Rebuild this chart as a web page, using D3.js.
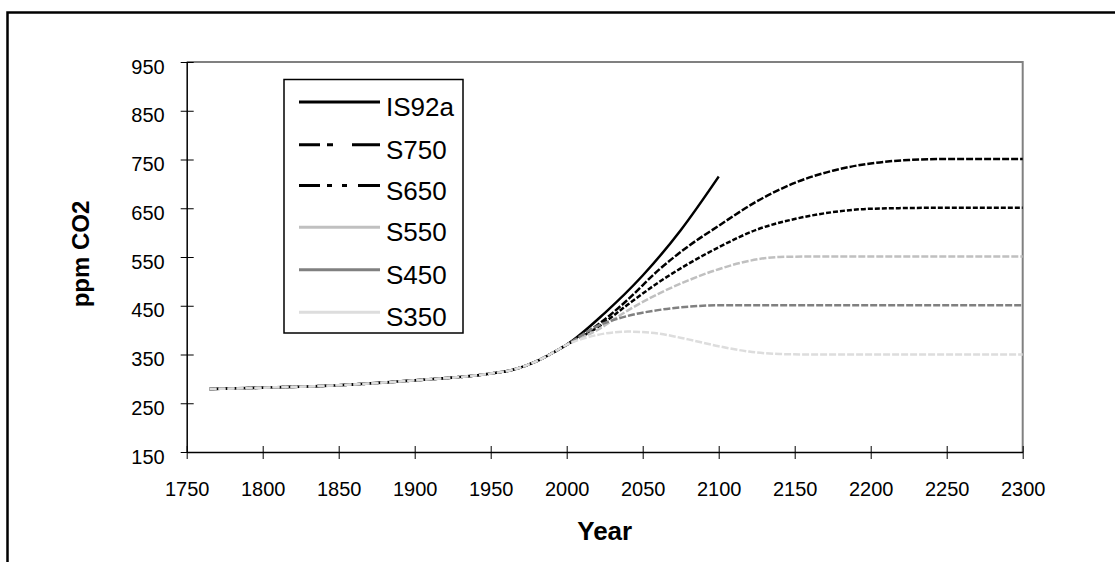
<!DOCTYPE html>
<html>
<head>
<meta charset="utf-8">
<script src="https://cdn.jsdelivr.net/npm/d3@7"></script>
<style>
  html, body { margin: 0; padding: 0; background: #fff; }
  svg { display: block; font-family: Arial, "Liberation Sans", sans-serif; }
</style>
</head>
<body>
<svg id="chart" width="1115" height="562"></svg>
<script>
// ---- data ----
const historyYears  = [1765, 1800, 1850, 1900, 1950, 1965, 1980, 1990, 2000];
const historyValues = [279, 282, 287, 297, 311, 319, 336, 352, 370];

const is92aYears  = [2000, 2025, 2050, 2075, 2100];
const is92aValues = [370, 435, 512, 605, 715];

const s750Years  = [2000, 2020, 2040, 2060, 2080, 2100, 2125, 2150, 2175, 2200, 2225, 2250, 2300];
const s750Values = [370, 410, 462, 522, 572, 614, 664, 702, 727, 742, 749, 751, 751];

const s650Years  = [2000, 2020, 2040, 2060, 2080, 2100, 2125, 2150, 2175, 2200, 2250, 2300];
const s650Values = [370, 405, 452, 497, 536, 570, 606, 628, 642, 649, 651, 651];

const s550Years  = [2000, 2020, 2040, 2060, 2080, 2100, 2120, 2140, 2160, 2300];
const s550Values = [370, 400, 440, 474, 502, 525, 542, 550, 551, 551];

const s450Years  = [2000, 2020, 2040, 2060, 2080, 2100, 2120, 2300];
const s450Values = [370, 408, 429, 441, 448, 451, 451, 451];

const s350Years  = [2000, 2020, 2040, 2060, 2080, 2100, 2120, 2140, 2160, 2300];
const s350Values = [370, 390, 397, 393, 381, 367, 356, 351, 350, 350];

const seriesNames  = ["IS92a", "S750", "S650", "S550", "S450", "S350"];
const seriesColors = ["#000000", "#000000", "#000000", "#c0c0c0", "#808080", "#dddddd"];
const plotDash     = [null, "7,2", "5,2", "7,2", "7,2", "7,2"];
const legendDash   = [null, "21,7,6,19,30", "21,7,5,10,5,11,30", null, null, null];

const xTicks = [1750, 1800, 1850, 1900, 1950, 2000, 2050, 2100, 2150, 2200, 2250, 2300];
const yTicks = [150, 250, 350, 450, 550, 650, 750, 850, 950];

// ---- build series ----
const hist = historyYears.map((yr, i) => ({year: yr, value: historyValues[i]}));
function series(years, values) {
  return hist.slice(0, -1).concat(years.map((yr, i) => ({year: yr, value: values[i]})));
}
const allSeries = [
  series(is92aYears, is92aValues),
  series(s750Years, s750Values),
  series(s650Years, s650Values),
  series(s550Years, s550Values),
  series(s450Years, s450Values),
  series(s350Years, s350Values)
];

// ---- layout ----
const svg = d3.select("#chart");
const pL = 186.7, pR = 1022.7, pT = 62, pB = 452;

const x = d3.scaleLinear().domain([1750, 2300]).range([pL, pR]);
const y = d3.scaleLinear().domain([150, 950]).range([pB, pT]);

// outer frame
svg.append("rect")
  .attr("x", 7.5).attr("y", 12.5).attr("width", 1130).attr("height", 570)
  .attr("fill", "none").attr("stroke", "#000").attr("stroke-width", 2.5);

// plot frame (top/right gray)
svg.append("path")
  .attr("d", `M${pL},${pT}H${pR}V${pB}`)
  .attr("fill", "none").attr("stroke", "#808080").attr("stroke-width", 2);

// lines (first series underneath, last on top)
const line = d3.line().x(d => x(d.year)).y(d => y(d.value)).curve(d3.curveMonotoneX);
allSeries.forEach((s, i) => {
  svg.append("path")
    .datum(s)
    .attr("d", line)
    .attr("fill", "none")
    .attr("stroke", seriesColors[i])
    .attr("stroke-width", 2.5)
    .attr("stroke-dasharray", plotDash[i]);
});

// axes
const xAxis = d3.axisBottom(x).tickValues(xTicks).tickFormat(d3.format("d"))
  .tickSizeInner(7).tickSizeOuter(0).tickPadding(4);
const gx = svg.append("g").attr("transform", `translate(0,${pB})`).call(xAxis);
gx.select(".domain").attr("stroke", "#000").attr("stroke-width", 1.5);
gx.selectAll(".tick line").attr("y1", -6).attr("y2", 7).attr("stroke", "#000").attr("stroke-width", 1);
gx.selectAll(".tick text").attr("y", 44).attr("dy", null)
  .style("font-size", "20px").style("font-family", "Arial, 'Liberation Sans', sans-serif").attr("fill", "#000");

const yAxis = d3.axisLeft(y).tickValues(yTicks).tickFormat(d3.format("d"))
  .tickSizeInner(7).tickSizeOuter(0);
const gy = svg.append("g").attr("transform", `translate(${pL},0)`).call(yAxis);
gy.select(".domain").attr("stroke", "#000").attr("stroke-width", 1.5);
gy.selectAll(".tick line").attr("x1", -6).attr("x2", 7).attr("stroke", "#000").attr("stroke-width", 1);
gy.selectAll(".tick text").attr("x", -22).attr("dy", "0.55em")
  .style("font-size", "20px").style("font-family", "Arial, 'Liberation Sans', sans-serif").attr("fill", "#000");

// axis titles
svg.append("text")
  .attr("x", (pL + pR) / 2).attr("y", 540)
  .attr("text-anchor", "middle")
  .style("font-size", "26px").style("font-weight", "bold")
  .text("Year");
svg.append("text")
  .attr("transform", `translate(89,254) rotate(-90)`)
  .attr("text-anchor", "middle")
  .style("font-size", "24px").style("font-weight", "bold")
  .text("ppm CO2");

// legend
const lg = svg.append("g");
lg.append("rect")
  .attr("x", 284).attr("y", 79.5).attr("width", 179).attr("height", 253.5)
  .attr("fill", "#fff").attr("stroke", "#000").attr("stroke-width", 1.5);
const legendY = [102, 144.7, 185.5, 227.3, 269.8, 312.3];
seriesNames.forEach((name, i) => {
  lg.append("line")
    .attr("x1", 299).attr("x2", 380)
    .attr("y1", legendY[i]).attr("y2", legendY[i])
    .attr("stroke", seriesColors[i]).attr("stroke-width", 3)
    .attr("stroke-dasharray", legendDash[i]);
  lg.append("text")
    .attr("x", 386).attr("y", legendY[i] + 14)
    .style("font-size", "26px")
    .text(name);
});
</script>
</body>
</html>
